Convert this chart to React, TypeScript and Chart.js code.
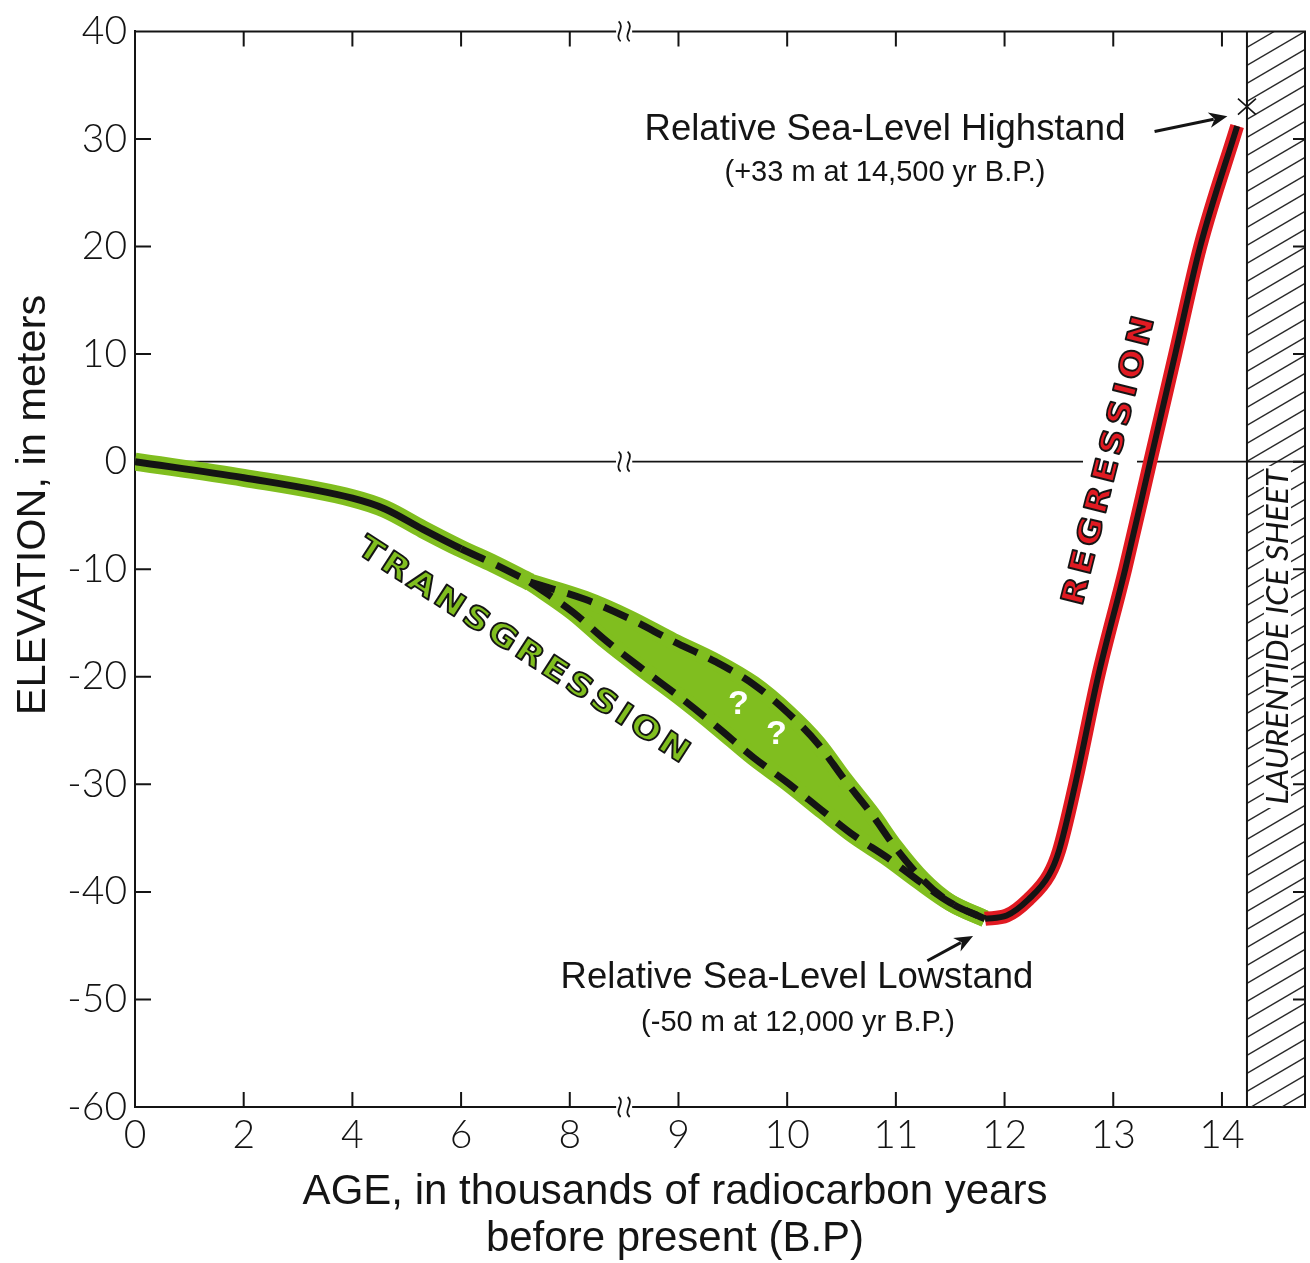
import React, { useEffect, useRef } from 'react';
import { Chart, registerables } from 'chart.js';

Chart.register(...registerables);

// Broken age axis: 0–8 ka drawn at 2 ka per unit, 8 ka onward at 1 ka per unit
const toU = (age: number) => (age <= 8 ? age / 2 : age - 4);

const X_TICK_AGES = [0, 2, 4, 6, 8, 9, 10, 11, 12, 13, 14];
const Y_TICKS = [40, 30, 20, 10, 0, -10, -20, -30, -40, -50, -60];

// Holocene curve, 0 ka to where the record splits (ka BP, metres)
const MAIN_AGE = [0, 2, 4, 4.6, 5.3, 6.0, 6.6, 7.27];
const MAIN_ELEV = [0, -1.5, -3.4, -4.4, -6.3, -8.1, -9.5, -11.2];
const DASH_FROM_AGE = 6.0;

// Uncertain transgression envelope
const UPPER_AGE = [7.27, 8.14, 8.55, 8.95, 9.34, 9.69, 10.0, 10.28, 10.53, 10.78, 10.99, 11.25, 11.5, 11.82];
const UPPER_ELEV = [-11.2, -12.8, -14.6, -16.7, -18.6, -20.7, -23.3, -26.2, -29.6, -32.8, -35.8, -38.9, -41.0, -42.5];
const LOWER_AGE = [7.27, 8.03, 8.34, 8.71, 9.04, 9.36, 9.69, 10.01, 10.33, 10.62, 10.92, 11.2, 11.5, 11.82];
const LOWER_ELEV = [-11.2, -14.0, -16.7, -19.6, -22.1, -24.7, -27.5, -29.9, -32.5, -34.8, -36.8, -38.9, -41.0, -42.5];

// Late-glacial regression
const REG_AGE = [11.82, 12.02, 12.22, 12.41, 12.5, 12.65, 12.86, 13.11, 13.34, 13.57, 13.8, 14.14];
const REG_ELEV = [-42.5, -42.2, -40.7, -38.4, -36.2, -30, -20, -10, 0, 10, 20, 31.2];

const HIGHSTAND = { age: 14.23, elev: 33 };
const ICE_MARGIN_AGE = 14.23;

const GREEN = '#80BE1F';
const RED = '#E01A22';
const INK = '#141414';
const DASH = [26, 13];
const SANS = '"Liberation Sans", Arial, sans-serif';

const pts = (ages: number[], elevs: number[]) => ages.map((a, i) => ({ x: toU(a), y: elevs[i] }));

// Outlined capitals spread evenly between two points, each letter turned to the line
function spacedLabel(ctx: CanvasRenderingContext2D, text: string, p0: number[], p1: number[], font: string, fill: string) {
  const stretch = 1.15;
  ctx.save();
  ctx.font = font;
  const chars = [...text];
  const ws = chars.map((c) => ctx.measureText(c).width * stretch);
  const L = Math.hypot(p1[0] - p0[0], p1[1] - p0[1]);
  const ang = Math.atan2(p1[1] - p0[1], p1[0] - p0[0]);
  let pair = 0;
  for (let i = 1; i < chars.length; i++) pair += (ws[i - 1] + ws[i]) / 2;
  const gap = (L - pair) / (chars.length - 1);
  let d = 0;
  chars.forEach((c, i) => {
    if (i > 0) d += (ws[i - 1] + ws[i]) / 2 + gap;
    ctx.save();
    ctx.translate(p0[0] + Math.cos(ang) * d, p0[1] + Math.sin(ang) * d);
    ctx.rotate(ang);
    ctx.scale(stretch, 1);
    ctx.textAlign = 'center';
    ctx.textBaseline = 'middle';
    ctx.fillStyle = fill;
    ctx.fillText(c, 0, 0);
    ctx.lineWidth = 1.8;
    ctx.strokeStyle = INK;
    ctx.lineJoin = 'round';
    ctx.strokeText(c, 0, 0);
    ctx.restore();
  });
  ctx.restore();
}

function arrow(ctx: CanvasRenderingContext2D, x0: number, y0: number, x1: number, y1: number) {
  const ang = Math.atan2(y1 - y0, x1 - x0);
  const head = 20;
  ctx.save();
  ctx.strokeStyle = INK;
  ctx.fillStyle = INK;
  ctx.lineWidth = 3;
  ctx.beginPath();
  ctx.moveTo(x0, y0);
  ctx.lineTo(x1 - Math.cos(ang) * head * 0.7, y1 - Math.sin(ang) * head * 0.7);
  ctx.stroke();
  ctx.beginPath();
  ctx.moveTo(x1, y1);
  ctx.lineTo(x1 - Math.cos(ang - 0.4) * head, y1 - Math.sin(ang - 0.4) * head);
  ctx.lineTo(x1 - Math.cos(ang) * head * 0.65, y1 - Math.sin(ang) * head * 0.65);
  ctx.lineTo(x1 - Math.cos(ang + 0.4) * head, y1 - Math.sin(ang + 0.4) * head);
  ctx.closePath();
  ctx.fill();
  ctx.restore();
}

function axisBreak(ctx: CanvasRenderingContext2D, cx: number, cy: number) {
  ctx.save();
  ctx.fillStyle = '#fff';
  ctx.fillRect(cx - 8, cy - 2.5, 16, 5);
  ctx.strokeStyle = INK;
  ctx.lineWidth = 1.8;
  for (const dx of [-4.5, 4.5]) {
    ctx.beginPath();
    ctx.moveTo(cx + dx - 1, cy - 10);
    ctx.bezierCurveTo(cx + dx + 6, cy - 4, cx + dx - 6, cy + 4, cx + dx + 1, cy + 10);
    ctx.stroke();
  }
  ctx.restore();
}

const decor = {
  id: 'decor',
  beforeDatasetsDraw(chart: any) {
    const { ctx, chartArea: a, scales } = chart;
    const X = (age: number) => scales.x.getPixelForValue(toU(age));
    const Y = (e: number) => scales.y.getPixelForValue(e);
    const hx = X(ICE_MARGIN_AGE);

    // Laurentide ice sheet hatching
    ctx.save();
    ctx.beginPath();
    ctx.rect(hx, a.top, a.right - hx, a.bottom - a.top);
    ctx.clip();
    ctx.strokeStyle = '#2a2a2a';
    ctx.lineWidth = 1.3;
    const rise = 34;
    for (let yy = a.top - 20; yy < a.bottom + rise + 20; yy += 18) {
      ctx.beginPath();
      ctx.moveTo(hx, yy);
      ctx.lineTo(a.right, yy - rise);
      ctx.stroke();
    }
    ctx.restore();

    // zero line, broken at the axis break and under the regression label
    const y0 = Y(0);
    const bx = (X(8) + X(9)) / 2;
    const r0 = [X(12.67), Y(-12.1)];
    const r1 = [X(13.27), Y(12.1)];
    const t = (r0[1] - y0) / (r0[1] - r1[1]);
    const rx = r0[0] + (r1[0] - r0[0]) * t;
    ctx.save();
    ctx.strokeStyle = INK;
    ctx.lineWidth = 1.8;
    const segs = [[a.left, bx - 8], [bx + 8, rx - 27], [rx + 27, a.right]];
    for (const [s, e] of segs) {
      ctx.beginPath();
      ctx.moveTo(s, y0);
      ctx.lineTo(e, y0);
      ctx.stroke();
    }

    // white panel behind the ice sheet name
    const lx = (hx + a.right) / 2 + 1;
    ctx.fillStyle = '#fff';
    ctx.fillRect(lx - 13, Y(-0.4), 27, Y(-32.2) - Y(-0.4));

    // frame: top, right, ice margin
    ctx.lineWidth = 2;
    ctx.beginPath();
    ctx.moveTo(a.left, a.top);
    ctx.lineTo(a.right, a.top);
    ctx.lineTo(a.right, a.bottom);
    ctx.moveTo(hx, a.top);
    ctx.lineTo(hx, a.bottom);
    ctx.stroke();

    // inward tick marks
    ctx.lineWidth = 2;
    ctx.beginPath();
    for (const v of Y_TICKS.slice(1, -1)) {
      ctx.moveTo(a.left, Y(v));
      ctx.lineTo(a.left + 16, Y(v));
      ctx.moveTo(a.right, Y(v));
      ctx.lineTo(a.right - 12, Y(v));
    }
    for (const ag of X_TICK_AGES.slice(1)) {
      ctx.moveTo(X(ag), a.bottom);
      ctx.lineTo(X(ag), a.bottom - 15);
      ctx.moveTo(X(ag), a.top);
      ctx.lineTo(X(ag), a.top + 15);
    }
    ctx.stroke();
    ctx.restore();

    // ice sheet name
    ctx.save();
    ctx.translate(lx, Y(-16.3));
    ctx.rotate(-Math.PI / 2);
    ctx.font = 'italic 400 30px Lato, "DejaVu Sans", sans-serif';
    const name = 'LAURENTIDE ICE SHEET';
    const w = ctx.measureText(name).width;
    ctx.scale(335 / w, 1);
    ctx.textAlign = 'center';
    ctx.textBaseline = 'middle';
    ctx.fillStyle = INK;
    ctx.fillText(name, 0, 1);
    ctx.restore();
  },
  afterDatasetsDraw(chart: any) {
    const { ctx, chartArea: a, scales } = chart;
    const X = (age: number) => scales.x.getPixelForValue(toU(age));
    const Y = (e: number) => scales.y.getPixelForValue(e);
    const bx = (X(8) + X(9)) / 2;

    axisBreak(ctx, bx, a.top);
    axisBreak(ctx, bx, Y(0));
    axisBreak(ctx, bx, a.bottom);

    // highstand marker
    const hx = X(HIGHSTAND.age);
    const hy = Y(HIGHSTAND.elev);
    ctx.save();
    ctx.strokeStyle = INK;
    ctx.lineWidth = 1.6;
    ctx.beginPath();
    ctx.moveTo(hx - 9, hy - 8);
    ctx.lineTo(hx + 9, hy + 8);
    ctx.moveTo(hx - 9, hy + 8);
    ctx.lineTo(hx + 9, hy - 8);
    ctx.stroke();
    ctx.restore();

    arrow(ctx, X(13.38), Y(30.7), X(14.05), Y(32.1));
    arrow(ctx, X(11.29), Y(-46.4), X(11.71), Y(-44.1));

    ctx.save();
    ctx.fillStyle = INK;
    ctx.textAlign = 'center';
    ctx.textBaseline = 'alphabetic';
    ctx.font = `36.5px ${SANS}`;
    ctx.fillText('Relative Sea-Level Highstand', 885, 140);
    ctx.fillText('Relative Sea-Level Lowstand', 797, 988);
    ctx.font = `29px ${SANS}`;
    ctx.fillText('(+33 m at 14,500 yr B.P.)', 885, 181);
    ctx.fillText('(-50 m at 12,000 yr B.P.)', 798, 1031);

    // axis titles
    ctx.font = `42px ${SANS}`;
    ctx.fillText('AGE, in thousands of radiocarbon years', 675, 1204);
    ctx.fillText('before present (B.P)', 675, 1251);
    ctx.font = `41.5px ${SANS}`;
    ctx.translate(45, 505);
    ctx.rotate(-Math.PI / 2);
    ctx.fillText('ELEVATION, in meters', 0, 0);
    ctx.restore();

    // uncertainty marks inside the envelope
    ctx.save();
    ctx.fillStyle = '#fff';
    ctx.font = `bold 34px ${SANS}`;
    ctx.textAlign = 'center';
    ctx.textBaseline = 'middle';
    ctx.fillText('?', X(9.55), Y(-22.6));
    ctx.fillText('?', X(9.9), Y(-25.4));
    ctx.restore();

    const bold = 'bold 31px "DejaVu Sans", sans-serif';
    spacedLabel(ctx, 'TRANSGRESSION', [X(4.32), Y(-8.4)], [X(8.95), Y(-26.7)], bold, GREEN);
    spacedLabel(ctx, 'REGRESSION', [X(12.67), Y(-12.1)], [X(13.27), Y(12.1)], bold, RED);
  },
};

export default function App() {
  const ref = useRef<HTMLCanvasElement>(null);

  useEffect(() => {
    const common = { pointRadius: 0, cubicInterpolationMode: 'monotone', clip: 0, borderJoinStyle: 'round' };
    const chart = new Chart(ref.current as HTMLCanvasElement, {
      type: 'line',
      data: {
        datasets: [
          {
            ...common,
            label: 'Holocene',
            data: pts(MAIN_AGE, MAIN_ELEV),
            borderColor: INK,
            borderWidth: 7,
            segment: { borderDash: (c: any) => (c.p0.parsed.x >= toU(DASH_FROM_AGE) - 1e-6 ? DASH : []) },
            order: 1,
          },
          { ...common, label: 'Upper limit', data: pts(UPPER_AGE, UPPER_ELEV), borderColor: INK, borderWidth: 7, borderDash: DASH, order: 1 },
          { ...common, label: 'Lower limit', data: pts(LOWER_AGE, LOWER_ELEV), borderColor: INK, borderWidth: 7, borderDash: DASH, order: 1 },
          { ...common, label: 'Regression', data: pts(REG_AGE, REG_ELEV), borderColor: INK, borderWidth: 6, order: 1 },
          { ...common, label: 'Regression band', data: pts(REG_AGE, REG_ELEV), borderColor: RED, borderWidth: 14, order: 2 },
          { ...common, label: 'Holocene band', data: pts(MAIN_AGE, MAIN_ELEV), borderColor: GREEN, borderWidth: 18, order: 3 },
          { ...common, label: 'Upper band', data: pts(UPPER_AGE, UPPER_ELEV), borderColor: GREEN, borderWidth: 17, order: 3 },
          {
            ...common,
            label: 'Lower band',
            data: pts(LOWER_AGE, LOWER_ELEV),
            borderColor: GREEN,
            borderWidth: 17,
            backgroundColor: GREEN,
            fill: { target: 6, above: GREEN, below: GREEN },
            order: 3,
          },
        ] as any,
      },
      options: {
        animation: false,
        responsive: false,
        maintainAspectRatio: false,
        devicePixelRatio: 1,
        layout: { padding: { left: 0, top: 28, right: 5, bottom: 0 } },
        plugins: { legend: { display: false }, tooltip: { enabled: false } },
        scales: {
          x: {
            type: 'linear',
            min: 0,
            max: 10.764,
            afterFit: (axis: any) => {
              axis.height = 156;
            },
            afterBuildTicks: (axis: any) => {
              axis.ticks = X_TICK_AGES.map((ag) => ({ value: toU(ag) }));
            },
            grid: { display: false, drawTicks: false },
            border: { display: true, color: INK, width: 2 },
            ticks: {
              autoSkip: false,
              maxRotation: 0,
              padding: 5,
              color: INK,
              font: { family: 'Lato', size: 39, weight: '300' },
              callback: (_v: any, i: number) => String(X_TICK_AGES[i]),
            },
          },
          y: {
            type: 'linear',
            min: -60,
            max: 40,
            afterFit: (axis: any) => {
              axis.width = 135;
            },
            afterBuildTicks: (axis: any) => {
              axis.ticks = Y_TICKS.map((v) => ({ value: v }));
            },
            grid: { display: false, drawTicks: false },
            border: { display: true, color: INK, width: 2 },
            ticks: {
              padding: 8,
              color: INK,
              font: { family: 'Lato', size: 39, weight: '300' },
              callback: (v: any) => String(v),
            },
          },
        },
      } as any,
      plugins: [decor],
    });
    return () => chart.destroy();
  }, []);

  return (
    <div style={{ position: 'fixed', left: 0, top: 0, width: 1310, height: 1263, background: '#fff' }}>
      <canvas ref={ref} width={1310} height={1263} style={{ display: 'block', width: 1310, height: 1263 }} />
    </div>
  );
}
